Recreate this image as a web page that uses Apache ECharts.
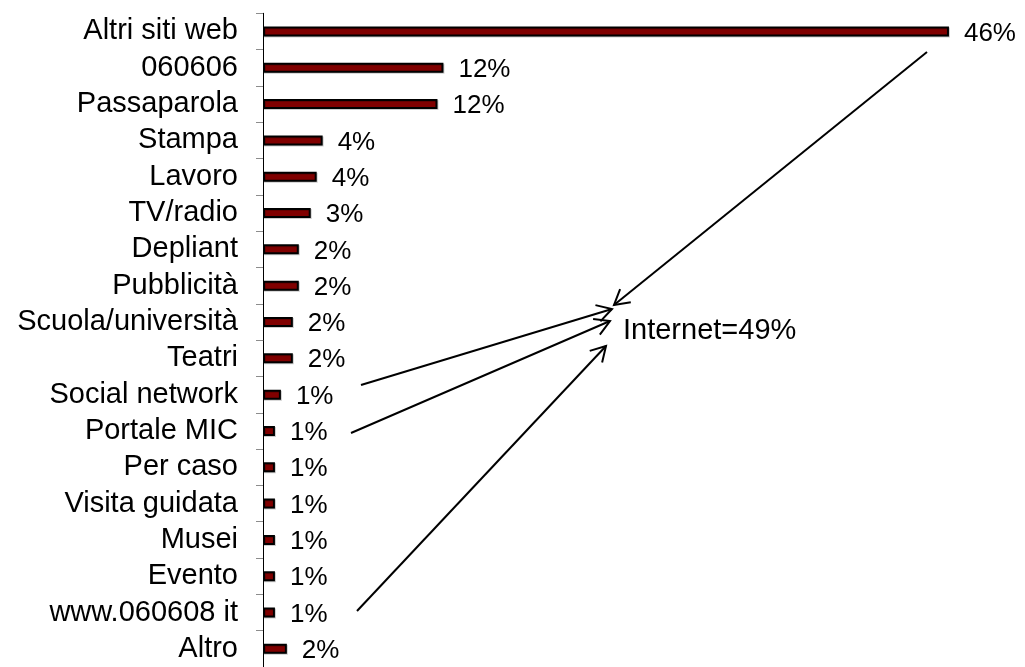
<!DOCTYPE html>
<html>
<head>
<meta charset="utf-8">
<script src="https://cdn.jsdelivr.net/npm/echarts@6/dist/echarts.min.js"></script>
<style>
  html, body { margin: 0; padding: 0; background: #ffffff; }
  #chart { width: 1025px; height: 667px; }
</style>
</head>
<body>
<div id="chart"></div>
<script>
// Where visitors heard about the initiative (share of answers, %)
const categories = [
  'Altri siti web', '060606', 'Passaparola', 'Stampa', 'Lavoro', 'TV/radio',
  'Depliant', 'Pubblicità', 'Scuola/università', 'Teatri', 'Social network',
  'Portale MIC', 'Per caso', 'Visita guidata', 'Musei', 'Evento',
  'www.060608 it', 'Altro'
];
const shares = [
  46.0, 12.1, 11.7, 4.0, 3.6, 3.2,
  2.4, 2.4, 2.0, 2.0, 1.2,
  0.8, 0.8, 0.8, 0.8, 0.8,
  0.8, 1.6
];
const internetNote = 'Internet=49%';

const FONT = "'Liberation Sans', Arial, Helvetica, sans-serif";

const chart = echarts.init(document.getElementById('chart'), null, { renderer: 'canvas' });

// Open "V" arrow from a label towards the Internet note
function arrow(from, to) {
  const dx = to[0] - from[0], dy = to[1] - from[1];
  const len = Math.hypot(dx, dy);
  const ux = dx / len, uy = dy / len;
  const wing = 17, ang = Math.PI / 6;
  const back = (a) => [
    to[0] - wing * (ux * Math.cos(a) - uy * Math.sin(a)),
    to[1] - wing * (uy * Math.cos(a) + ux * Math.sin(a))
  ];
  const style = { stroke: '#000', lineWidth: 2, fill: null };
  return [
    { type: 'line', shape: { x1: from[0], y1: from[1], x2: to[0], y2: to[1] }, style: style, silent: true },
    { type: 'polyline', shape: { points: [back(ang), to, back(-ang)] }, style: style, silent: true }
  ];
}

const arrows = [].concat(
  arrow([927, 52], [614, 305]),
  arrow([361, 385], [612, 309]),
  arrow([351, 433], [610, 321]),
  arrow([357, 611], [606, 346])
);

chart.setOption({
  animation: false,
  backgroundColor: '#ffffff',
  grid: { left: 263, top: 13.3, width: 745.6, height: 657.2, containLabel: false },
  xAxis: {
    type: 'value',
    min: 0,
    max: 50,
    show: false
  },
  yAxis: {
    type: 'category',
    data: categories,
    inverse: true,
    axisLine: { show: true, lineStyle: { color: '#000', width: 1 } },
    axisTick: { show: true, length: 7, inside: false, lineStyle: { color: '#8c8c8c', width: 1 } },
    axisLabel: { interval: 0, color: '#000', fontSize: 29, fontFamily: FONT, margin: 25 },
    splitLine: { show: false }
  },
  series: [{
    type: 'bar',
    data: shares,
    barWidth: 10,
    itemStyle: {
      color: '#800000',
      borderColor: '#000',
      borderWidth: 2,
      shadowColor: 'rgba(0,0,0,0.2)',
      shadowOffsetX: 1,
      shadowOffsetY: 1,
      shadowBlur: 0
    },
    label: {
      show: true,
      position: 'right',
      distance: 15,
      offset: [0, 2],
      color: '#000',
      fontSize: 26,
      fontFamily: FONT,
      formatter: (p) => Math.round(p.value) + '%'
    }
  }],
  graphic: arrows.concat([{
    type: 'text',
    left: 623,
    top: 316,
    style: { text: internetNote, fill: '#000', fontSize: 29, fontFamily: FONT },
    silent: true
  }])
});
</script>
</body>
</html>
